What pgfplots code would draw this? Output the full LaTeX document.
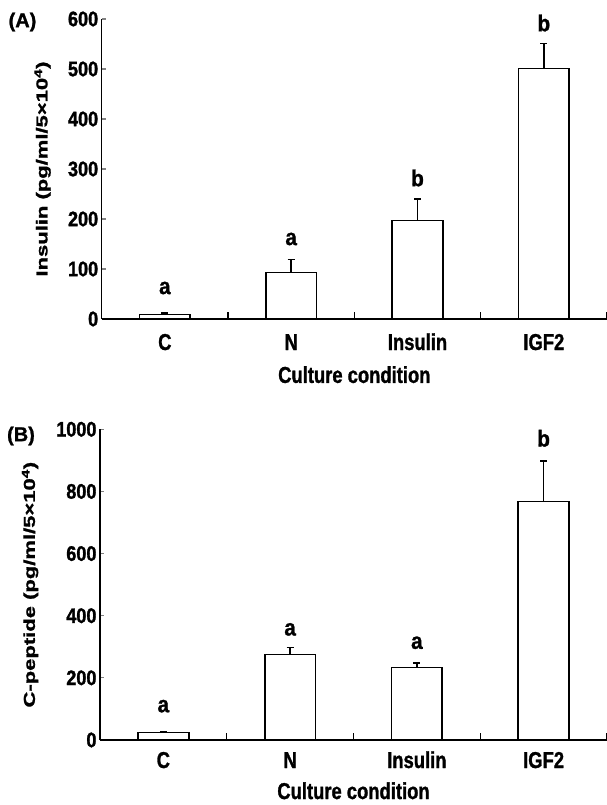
\documentclass[border=0pt]{standalone}
\usepackage{fontspec}
\setmainfont{Liberation Sans}[FakeStretch=0.8, BoldFeatures={FakeBold=1.2}]
\newfontfamily\plainfont{Liberation Sans}[BoldFeatures={FakeBold=1.2}]
\newfontfamily\tickfont{Liberation Sans}[FakeStretch=0.86, BoldFeatures={FakeBold=1.4}]
\newfontfamily\letfont{Liberation Sans}[FakeStretch=0.9, BoldFeatures={FakeBold=1.2}]
\usepackage{graphicx}
\usepackage{pgfplots}
\usepackage{pgfplotstable}
\pgfplotsset{compat=1.18}

\pgfplotstableread{
x y e
0 9 3
1 93 26
2 197 43
3 501 50
}\insA

\pgfplotstableread{
x y e
0 24 2
1 275 22
2 233 15
3 767 131
}\cpepB

\tikzset{lett/.style={font=\letfont\bfseries\fontsize{23}{23}\selectfont}}

\pgfplotsset{
  common/.style={
    scale only axis, clip=false,
    ybar, bar width=0.4,
    xmin=-0.5, xmax=3.5, ymin=0,
    axis x line*=bottom, axis y line*=left,
    axis line style={-, line width=1.2pt},
    xtick={0,1,2,3},
    xticklabels={C,N,Insulin,IGF2},
    xtick style={draw=none},
    extra x ticks={0.5,1.5,2.5,3.5},
    extra x tick labels={},
    extra x tick style={xtick style={draw=black, line width=1.2pt}, major tick length=7pt, tick align=inside},
    ytick style={line width=1.2pt},
    tick align=inside,
    major tick length=4pt,
    /pgf/number format/assume math mode=true,
    /pgf/number format/1000 sep={},
    yticklabel style={font=\tickfont\bfseries\fontsize{21}{21}\selectfont, anchor=east},
    xticklabel style={font=\bfseries\fontsize{23}{23}\selectfont, anchor=base},
    xlabel style={font=\bfseries\fontsize{23}{23}\selectfont, anchor=base},
    ylabel style={font=\plainfont\bfseries\fontsize{22}{22}\selectfont, anchor=center, rotate=0},
  },
  barplot/.style={fill=white, draw=black, line width=1.6pt,
    error bars/.cd, y dir=plus, y explicit,
    error bar style={line width=1.4pt, black},
    error mark options={black, line width=1.4pt, mark size=3.5pt, rotate=90}},
}

\begin{document}
\begin{tikzpicture}[x=1pt,y=1pt]
\path[use as bounding box] (0,0) rectangle (607,-805);

\begin{axis}[common,
  at={(101.7pt,-319pt)}, anchor=south west,
  width=505.3pt, height=300pt,
  ymax=600, ytick={0,100,...,600},
  xticklabel style={yshift=-31pt},
  xlabel={Culture condition},
  xlabel style={at={(axis description cs:0.5,-0.213)}},
  ylabel={\scalebox{1}[0.72]{Insulin (pg/ml/5\texttimes10\textsuperscript{4})}},
  ylabel style={at={(axis description cs:-0.117,0.5)}},
]
\addplot[barplot] table[x=x,y=y,y error=e]{\insA};
\node[lett] at (axis cs:0,62) {a};
\node[lett] at (axis cs:1,160) {a};
\node[lett] at (axis cs:2,282) {b};
\node[lett] at (axis cs:3,592) {b};
\end{axis}

\begin{axis}[common,
  at={(100pt,-740pt)}, anchor=south west,
  width=507pt, height=310.7pt,
  ymax=1000, ytick={0,200,...,1000},
  xticklabel style={yshift=-28pt},
  xlabel={Culture condition},
  xlabel style={at={(axis description cs:0.5,-0.19)}},
  ylabel={\scalebox{1}[0.72]{C-peptide (pg/ml/5\texttimes10\textsuperscript{4})}},
  ylabel style={at={(axis description cs:-0.138,0.5)}},
]
\addplot[barplot] table[x=x,y=y,y error=e]{\cpepB};
\node[lett] at (axis cs:0,109) {a};
\node[lett] at (axis cs:1,356) {a};
\node[lett] at (axis cs:2,313) {a};
\node[lett] at (axis cs:3,971) {b};
\end{axis}

\node[font=\plainfont\bfseries\fontsize{20}{20}\selectfont] at (22.5,-22) {(A)};
\node[font=\plainfont\bfseries\fontsize{20}{20}\selectfont] at (21,-436) {(B)};
\end{tikzpicture}
\end{document}
